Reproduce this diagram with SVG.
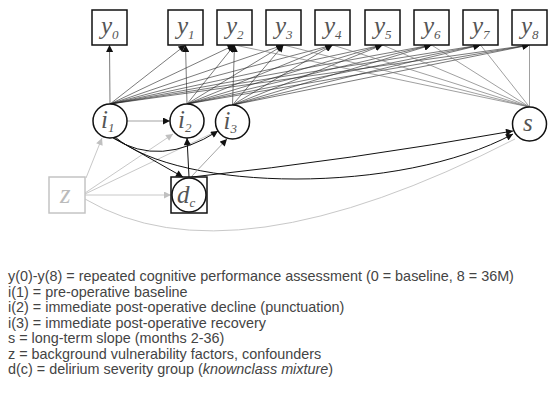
<svg xmlns="http://www.w3.org/2000/svg" width="553" height="396" viewBox="0 0 553 396">
<style>
.box{fill:#fff;stroke:#111;stroke-width:1.5}
.zbox{fill:#fff;stroke:#c4c4c4;stroke-width:1.5}
.circ{fill:#fff;stroke:#111;stroke-width:1.5}
.lbl{font-family:"Liberation Serif",serif;font-style:italic;font-size:25px;fill:#555}
.sub{font-size:13px}
.zl{font-family:"Liberation Serif",serif;font-style:italic;font-size:27px;fill:#bbb}
.ld{stroke:#222;stroke-width:0.6;fill:none}
.ls{stroke:#777;stroke-width:0.7;fill:none}
.lb{stroke:#111;stroke-width:1;fill:none}
.lg{stroke:#999;stroke-width:0.9;fill:none}
.lz{stroke:#c8c8c8;stroke-width:1;fill:none}
.leg{font-family:"Liberation Sans",Arial,sans-serif;font-size:14.4px;fill:#444}
</style>
<defs>
<marker id="ab" viewBox="0 0 10 10" refX="10" refY="5" markerWidth="8" markerHeight="7" markerUnits="userSpaceOnUse" orient="auto"><path d="M0,0 L10,5 L0,10 z" fill="#111"/></marker>
<marker id="ag" viewBox="0 0 10 10" refX="10" refY="5" markerWidth="8" markerHeight="7" markerUnits="userSpaceOnUse" orient="auto"><path d="M0,0 L10,5 L0,10 z" fill="#c0c0c0"/></marker>
</defs>
<g id="connectors">
<path class="ld" marker-end="url(#ab)" d="M110,104 L109.5,45"/>
<path class="ld" marker-end="url(#ab)" d="M110,104 L185.5,45"/>
<path class="ld" marker-end="url(#ab)" d="M110,104 L234.5,45"/>
<path class="ld" marker-end="url(#ab)" d="M110,104 L283.5,45"/>
<path class="ld" marker-end="url(#ab)" d="M110,104 L332.5,45"/>
<path class="ld" marker-end="url(#ab)" d="M110,104 L382.5,45"/>
<path class="ld" marker-end="url(#ab)" d="M110,104 L431.5,45"/>
<path class="ld" marker-end="url(#ab)" d="M110,104 L480.5,45"/>
<path class="ld" marker-end="url(#ab)" d="M110,104 L529.5,45"/>
<path class="ld" marker-end="url(#ab)" d="M187,104 L185.5,45"/>
<path class="ld" marker-end="url(#ab)" d="M187,104 L234.5,45"/>
<path class="ld" marker-end="url(#ab)" d="M187,104 L283.5,45"/>
<path class="ld" marker-end="url(#ab)" d="M187,104 L332.5,45"/>
<path class="ld" marker-end="url(#ab)" d="M187,104 L382.5,45"/>
<path class="ld" marker-end="url(#ab)" d="M187,104 L431.5,45"/>
<path class="ld" marker-end="url(#ab)" d="M187,104 L480.5,45"/>
<path class="ld" marker-end="url(#ab)" d="M187,104 L529.5,45"/>
<path class="ld" marker-end="url(#ab)" d="M232.5,105 L234.5,45"/>
<path class="ld" marker-end="url(#ab)" d="M232.5,105 L283.5,45"/>
<path class="ld" marker-end="url(#ab)" d="M232.5,105 L332.5,45"/>
<path class="ld" marker-end="url(#ab)" d="M232.5,105 L382.5,45"/>
<path class="ld" marker-end="url(#ab)" d="M232.5,105 L431.5,45"/>
<path class="ld" marker-end="url(#ab)" d="M232.5,105 L480.5,45"/>
<path class="ld" marker-end="url(#ab)" d="M232.5,105 L529.5,45"/>
<path class="ls" d="M529.5,107 L234.5,45"/>
<path class="ls" d="M529.5,107 L283.5,45"/>
<path class="ls" d="M529.5,107 L332.5,45"/>
<path class="ls" d="M529.5,107 L382.5,45"/>
<path class="ls" d="M529.5,107 L431.5,45"/>
<path class="ls" d="M529.5,107 L480.5,45"/>
<path class="ls" d="M529.5,107 L529.5,45"/>
<path class="lg" marker-end="url(#ab)" d="M127,121 L170,121"/>
<path class="lz" marker-end="url(#ag)" d="M86,178 L102,138"/>
<path class="lz" marker-end="url(#ag)" d="M85,193 L173,134"/>
<path class="lz" d="M85,194 L217,131"/>
<path class="lz" marker-end="url(#ag)" d="M85,195 L171,195"/>
<path class="lz" d="M85,199 Q230,285 515,139"/>
<path class="lb" marker-end="url(#ab)" d="M113,138 Q160,168 218,131"/>
<path class="lb" marker-end="url(#ab)" d="M114,138 L183,177"/>
<path class="lb" marker-end="url(#ab)" d="M115,137 C180,192 400,195 513,134"/>
<path class="lb" marker-end="url(#ab)" d="M192,177 Q350,160 513,131"/>
<path class="lb" marker-end="url(#ab)" d="M189,177 L187,138"/>
<path class="lg" marker-end="url(#ab)" d="M191,177 L227,139"/>
</g>
<g id="y0"><rect class="box" x="92" y="10" width="35" height="35"/><text class="lbl" x="101" y="34">y<tspan class="sub" dy="5">0</tspan></text></g>
<g id="y1"><rect class="box" x="168" y="10" width="35" height="35"/><text class="lbl" x="177" y="34">y<tspan class="sub" dy="5">1</tspan></text></g>
<g id="y2"><rect class="box" x="217" y="10" width="35" height="35"/><text class="lbl" x="226" y="34">y<tspan class="sub" dy="5">2</tspan></text></g>
<g id="y3"><rect class="box" x="266" y="10" width="35" height="35"/><text class="lbl" x="275" y="34">y<tspan class="sub" dy="5">3</tspan></text></g>
<g id="y4"><rect class="box" x="315" y="10" width="35" height="35"/><text class="lbl" x="324" y="34">y<tspan class="sub" dy="5">4</tspan></text></g>
<g id="y5"><rect class="box" x="365" y="10" width="35" height="35"/><text class="lbl" x="374" y="34">y<tspan class="sub" dy="5">5</tspan></text></g>
<g id="y6"><rect class="box" x="414" y="10" width="35" height="35"/><text class="lbl" x="423" y="34">y<tspan class="sub" dy="5">6</tspan></text></g>
<g id="y7"><rect class="box" x="463" y="10" width="35" height="35"/><text class="lbl" x="472" y="34">y<tspan class="sub" dy="5">7</tspan></text></g>
<g id="y8"><rect class="box" x="512" y="10" width="35" height="35"/><text class="lbl" x="521" y="34">y<tspan class="sub" dy="5">8</tspan></text></g>
<g id="i1"><circle class="circ" cx="110" cy="121" r="17"/><text class="lbl" x="101" y="128">i<tspan class="sub" dy="4">1</tspan></text></g>
<g id="i2"><circle class="circ" cx="187" cy="121" r="17"/><text class="lbl" x="178" y="128">i<tspan class="sub" dy="4">2</tspan></text></g>
<g id="i3"><circle class="circ" cx="232.5" cy="122" r="17"/><text class="lbl" x="223.5" y="129">i<tspan class="sub" dy="4">3</tspan></text></g>
<g id="s"><circle class="circ" cx="529.5" cy="124" r="17"/><text class="lbl" x="523" y="131">s</text></g>
<g id="dc"><rect class="box" x="171" y="177" width="36" height="36"/><circle class="circ" cx="189" cy="195" r="17"/><text class="lbl" x="177" y="203">d<tspan class="sub" dy="4">c</tspan></text></g>
<g id="z"><rect class="zbox" x="49" y="177" width="36" height="36"/><text class="zl" x="60" y="203">z</text></g>
<g id="legend">
<text class="leg" x="8" y="281">y(0)-y(8) = repeated cognitive performance assessment (0 = baseline, 8 = 36M)</text>
<text class="leg" x="8" y="296.5">i(1) = pre-operative baseline</text>
<text class="leg" x="8" y="312">i(2) = immediate post-operative decline (punctuation)</text>
<text class="leg" x="8" y="327.5">i(3) = immediate post-operative recovery</text>
<text class="leg" x="8" y="343">s = long-term slope (months 2-36)</text>
<text class="leg" x="8" y="358.5">z = background vulnerability factors, confounders</text>
<text class="leg" x="8" y="374">d(c) = delirium severity group (<tspan font-style="italic">knownclass mixture</tspan>)</text>
</g>
</svg>
